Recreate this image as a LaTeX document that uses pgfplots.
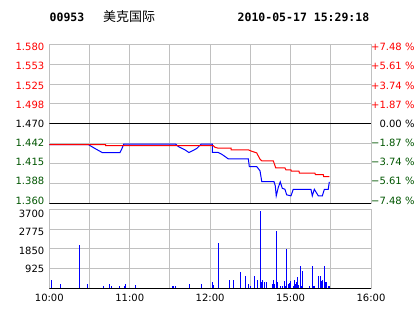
\documentclass[border=0pt]{standalone}
\usepackage{pgfplots}
\pgfplotsset{compat=1.18}
\usepackage{fontspec}
\setmainfont{DejaVu Sans}
\newfontfamily\cjk{Noto Sans CJK SC}
\newfontfamily\mono{DejaVu Sans Mono}
\definecolor{dgreen}{RGB}{0,85,0}
\definecolor{gridc}{RGB}{192,192,192}
\pgfplotsset{
  panel/.style={
    scale only axis, anchor=south west, width=321.7pt,
    xmin=0, xmax=240, xtick={0,30,60,90,120,150,180,210,240},
    grid=major, major grid style={gridc, line width=1pt},
    axis line style={gridc, line width=1pt},
    major tick length=0pt,
    tick label style={font=\fontsize{10}{12}\selectfont},
  }
}
\begin{document}
\begin{tikzpicture}[x=1pt,y=1pt]
\path[use as bounding box] (0,0) rectangle (414,314);
\node[anchor=west,inner sep=0pt] at (49.5,297) {\mono\bfseries\fontsize{11.5}{12}\selectfont 00953};
\node[anchor=west,inner sep=0pt] at (103,297.5) {\cjk\fontsize{13}{14}\selectfont 美克国际};
\node[anchor=west,inner sep=0pt] at (237.5,297) {\mono\bfseries\fontsize{11.5}{12}\selectfont 2010-05-17 15:29:18};

% price panel
\begin{axis}[panel, at={(49.3pt,110.7pt)}, height=159pt,
  ymin=1.36, ymax=1.58,
  ytick={1.36,1.3875,1.415,1.4425,1.47,1.4975,1.525,1.5525,1.58},
  yticklabels={{\color{dgreen}1.360},{\color{dgreen}1.388},{\color{dgreen}1.415},{\color{dgreen}1.442},1.470,{\color{red}1.498},{\color{red}1.525},{\color{red}1.553},{\color{red}1.580}},
  yticklabel style={xshift=-1.5pt, yshift={(4-\ticknum)*0.72pt}},
  xticklabel=\empty,
]
\addplot[black, line width=1pt] coordinates {(0,1.47) (240,1.47)};
\addplot[black, line width=1.2pt] coordinates {(0,1.36) (240,1.36)};
\addplot[blue, line width=1pt] coordinates {
(0,1.4413) (29.1,1.4413) (34.1,1.4358) (39.5,1.4302) (52.7,1.4302) (54.0,1.4348) (55.5,1.4418) (94.3,1.4418) (96.2,1.4386) (101.2,1.4340) (104.2,1.4302) (110.0,1.4358) (113.2,1.4418) (121.6,1.4418) (121.6,1.4303) (126.1,1.4303) (128.6,1.4279) (131.1,1.4247) (133.5,1.4215) (148.5,1.4215) (149.2,1.4109) (154.7,1.4109) (157.2,1.4049) (158.5,1.3901) (167.6,1.3901) (168.6,1.3841) (169.3,1.3703) (170.8,1.3818) (172.3,1.3897) (173.8,1.3808) (175.8,1.3794) (177.1,1.3717) (180.3,1.3703) (182.0,1.3794) (195.2,1.3794) (196.2,1.3703) (197.7,1.3794) (200.7,1.3703) (203.7,1.3703) (205.2,1.3794) (208.1,1.3794) (208.9,1.3897)
};
\addplot[red, line width=1pt] coordinates {
(0,1.4413) (42.1,1.4413) (42.1,1.4399) (122.3,1.4399) (123.6,1.4375) (126.1,1.4362) (135.6,1.4362) (135.6,1.4340) (148.5,1.4340) (151.0,1.4320) (154.7,1.4298) (157.2,1.4210) (158.5,1.4188) (167.1,1.4188) (168.9,1.4091) (175.8,1.4091) (176.5,1.4063) (180.3,1.4063) (180.6,1.4044) (186.3,1.4044) (186.6,1.4016) (198.2,1.4016) (198.5,1.3998) (204.4,1.3998) (204.7,1.3970) (208.9,1.3970)
};
\end{axis}

% percent labels
\begin{axis}[scale only axis, anchor=south west, width=321.7pt, height=159pt, at={(49.3pt,110.7pt)},
  xmin=0, xmax=240, xtick=\empty,
  ymin=-7.48, ymax=7.48,
  ytick={-7.48,-5.61,-3.74,-1.87,0,1.87,3.74,5.61,7.48},
  yticklabels={{\color{dgreen}−7.48 \%},{\color{dgreen}−5.61 \%},{\color{dgreen}−3.74 \%},{\color{dgreen}−1.87 \%},{\phantom{+}0.00 \%},{\color{red}+1.87 \%},{\color{red}+3.74 \%},{\color{red}+5.61 \%},{\color{red}+7.48 \%}},
  yticklabel pos=right,
  axis line style={draw=none}, major tick length=0pt,
  tick label style={font=\fontsize{10}{12}\selectfont},
  yticklabel style={inner sep=0pt, xshift=0pt, yshift={(4-\ticknum)*0.72pt}},
]
\end{axis}

% volume panel
\begin{axis}[panel, at={(49.3pt,25.7pt)}, height=79pt,
  ymin=0, ymax=3700,
  ytick={0,925,1850,2775,3700},
  yticklabels={,925,1850,2775,3700},
  yticklabel style={xshift=-1.5pt, yshift={(0.4-1.15*\ticknum)*1pt}},
  xticklabels={10:00,,11:00,,12:00,,15:00,,16:00},
  xticklabel style={yshift=-2.7pt},
]
\addplot[blue, ycomb, line width=1pt] coordinates {
(1.3,389) (8.2,201) (22.4,2028) (28.3,201) (40.3,108) (44.8,201) (46.3,108) (52.2,108) (56.0,108) (56.7,201) (64.2,155) (91.8,108) (92.5,108) (94.0,108) (104.4,201) (113.4,201) (121.6,295) (122.3,155) (126.1,2122) (134.3,389) (137.3,389) (142.5,764) (146.2,576) (148.5,201) (150.0,108) (152.9,576) (155.2,389) (157.4,3640) (158.2,295) (158.9,389) (160.4,295) (161.9,295) (166.4,201) (167.1,389) (167.9,201) (169.4,2684) (170.1,295) (172.3,108) (173.8,108) (175.3,342) (176.1,108) (176.8,1855) (178.3,201) (179.1,248) (179.8,342) (182.0,108) (182.8,389) (183.5,201) (184.3,295) (185.0,529) (185.8,155) (187.3,1045) (188.0,108) (188.8,810) (194.0,108) (196.2,1045) (197.0,108) (197.7,108) (200.7,576) (202.2,576) (202.9,342) (203.7,389) (205.2,1045) (205.9,295) (206.7,295) (208.1,108) (208.9,108)
};
\addplot[black, line width=1.2pt] coordinates {(0,0) (240,0)};
\end{axis}
\end{tikzpicture}
\end{document}
